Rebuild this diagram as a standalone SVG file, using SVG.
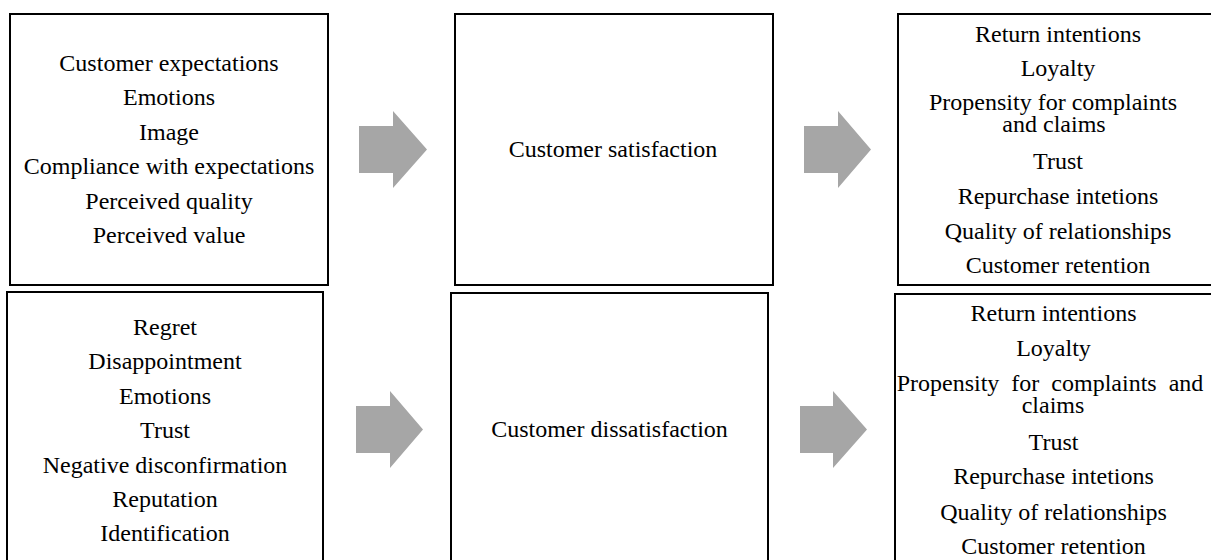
<svg xmlns="http://www.w3.org/2000/svg" width="1211" height="560" viewBox="0 0 1211 560">
<style>
.box{fill:#ffffff;stroke:#000000;stroke-width:2}
.t{font-family:"Liberation Serif","Times New Roman",serif;font-size:24px;fill:#000000;text-anchor:middle}
.arr{fill:#a6a6a6;stroke:none}
</style>
<rect width="1211" height="560" fill="#ffffff"/>
<g id="n1">
<rect class="box" x="10" y="14" width="318" height="271"/>
<text class="t" x="169" y="71">Customer expectations</text>
<text class="t" x="169" y="105">Emotions</text>
<text class="t" x="169" y="139.5">Image</text>
<text class="t" x="169" y="174">Compliance with expectations</text>
<text class="t" x="169" y="209">Perceived quality</text>
<text class="t" x="169" y="243">Perceived value</text>
</g>
<g id="n2">
<rect class="box" x="455" y="14" width="318" height="271"/>
<text class="t" x="613" y="157">Customer satisfaction</text>
</g>
<g id="n3">
<rect class="box" x="898" y="14" width="330" height="271"/>
<text class="t" x="1058" y="42">Return intentions</text>
<text class="t" x="1058" y="75.5">Loyalty</text>
<text class="t" x="1053" y="109.5">Propensity for complaints</text>
<text class="t" x="1054" y="132">and claims</text>
<text class="t" x="1058" y="168.5">Trust</text>
<text class="t" x="1058" y="203.5">Repurchase intetions</text>
<text class="t" x="1058" y="239">Quality of relationships</text>
<text class="t" x="1058" y="273">Customer retention</text>
</g>
<g id="n4">
<rect class="box" x="7" y="292" width="316" height="290"/>
<text class="t" x="165" y="334.5">Regret</text>
<text class="t" x="165" y="368.5">Disappointment</text>
<text class="t" x="165" y="403.5">Emotions</text>
<text class="t" x="165" y="437.5">Trust</text>
<text class="t" x="165" y="472.5">Negative disconfirmation</text>
<text class="t" x="165" y="507">Reputation</text>
<text class="t" x="165" y="541">Identification</text>
</g>
<g id="n5">
<rect class="box" x="451" y="293" width="317" height="290"/>
<text class="t" x="609.5" y="437">Customer dissatisfaction</text>
</g>
<g id="n6">
<rect class="box" x="895" y="294" width="330" height="290"/>
<text class="t" x="1053.5" y="321">Return intentions</text>
<text class="t" x="1053.5" y="356">Loyalty</text>
<text class="t" x="1050" y="390.5" style="word-spacing:6px">Propensity for complaints and</text>
<text class="t" x="1053" y="413">claims</text>
<text class="t" x="1053.5" y="450">Trust</text>
<text class="t" x="1053.5" y="484">Repurchase intetions</text>
<text class="t" x="1053.5" y="519.5">Quality of relationships</text>
<text class="t" x="1053.5" y="553.5">Customer retention</text>
</g>
<g id="connectors">
<polygon class="arr" points="359,126 393,126 393,111 427,149.5 393,188 393,173 359,173"/>
<polygon class="arr" points="804,126 838,126 838,111 871,149.5 838,188 838,173 804,173"/>
<polygon class="arr" points="356,406 390,406 390,391 423,429.5 390,468 390,453 356,453"/>
<polygon class="arr" points="800,406 833,406 833,391 867,429.5 833,468 833,453 800,453"/>
</g>
</svg>
